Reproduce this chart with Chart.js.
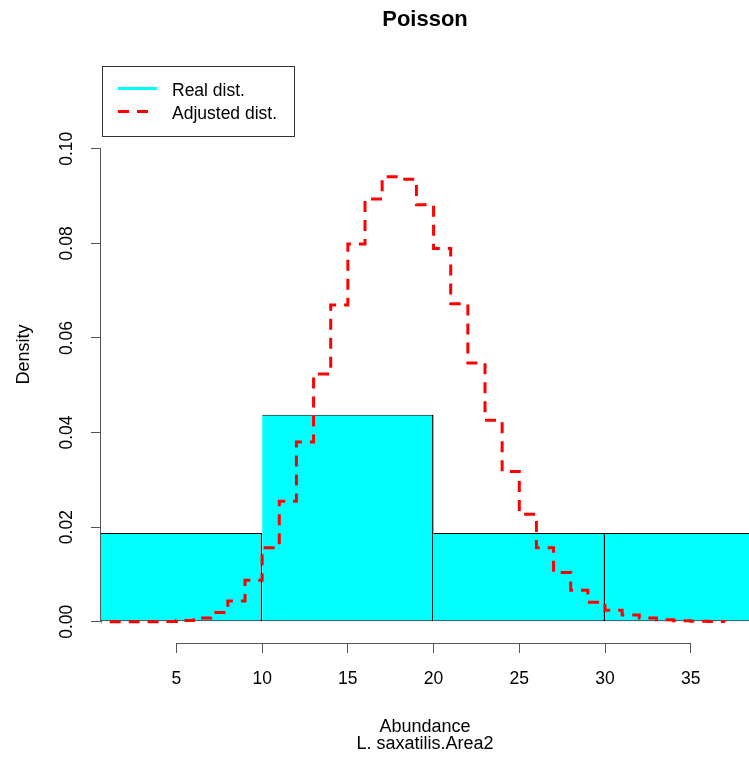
<!DOCTYPE html>
<html>
<head>
<meta charset="utf-8">
<title>Poisson</title>
<script src="https://cdn.jsdelivr.net/npm/chart.js@4.4.0/dist/chart.umd.min.js"></script>
<style>
  html, body { margin: 0; padding: 0; background: #fff; }
  canvas { display: block; }
</style>
</head>
<body>
<canvas id="histChart" width="749" height="766"></canvas>
<script>
// Histogram of observed abundance (density scale)
const breaks = [0, 10, 20, 30, 40];
const density = [0.01875, 0.04375, 0.01875, 0.01875];

// Fitted Poisson probabilities, one per abundance value
const abundance = [0, 1, 2, 3, 4, 5, 6, 7, 8, 9, 10, 11, 12, 13, 14, 15, 16, 17, 18,
  19, 20, 21, 22, 23, 24, 25, 26, 27, 28, 29, 30, 31, 32, 33, 34, 35, 36, 37];
const poisson = [0, 0.0000003, 0.0000027, 0.0000161, 0.000072, 0.0002577, 0.0007689,
  0.001966, 0.004399, 0.008751, 0.01566, 0.02549, 0.03802, 0.05236, 0.06694, 0.07988,
  0.08937, 0.0941, 0.09358, 0.08816, 0.0789, 0.06725, 0.05472, 0.04259, 0.03176,
  0.02274, 0.01566, 0.01038, 0.006635, 0.004096, 0.002444, 0.001411, 0.00079,
  0.000429, 0.000226, 0.000116, 0.0000574, 0.0000278];

// Axis ticks
const xTicks = [5, 10, 15, 20, 25, 30, 35];
const yTicks = [0, 0.02, 0.04, 0.06, 0.08, 0.10];

const mids = breaks.slice(0, -1).map((b, i) => (b + breaks[i + 1]) / 2);
const binWidth = breaks[1] - breaks[0];
const xStep = xTicks[1] - xTicks[0];

Chart.defaults.font.family = '"Liberation Sans", Arial, sans-serif';
Chart.defaults.color = '#000';

// axis lines only span first..last tick, like base R axes
const axisLines = {
  id: 'axisLines',
  afterDraw(chart) {
    const { ctx, chartArea, scales: { x, y } } = chart;
    const xt = x.ticks, yt = y.ticks;
    ctx.save();
    ctx.strokeStyle = '#555';
    ctx.lineWidth = 1;
    ctx.beginPath();
    const ay = Math.round(chartArea.bottom) + 0.5;
    ctx.moveTo(x.getPixelForValue(xt[0].value), ay);
    ctx.lineTo(x.getPixelForValue(xt[xt.length - 1].value), ay);
    const ax = Math.round(chartArea.left) - 0.5;
    ctx.moveTo(ax, y.getPixelForValue(yt[0].value));
    ctx.lineTo(ax, y.getPixelForValue(yt[yt.length - 1].value));
    ctx.stroke();
    ctx.restore();
  }
};

// boxed legend in the top-left corner of the plot region
const legendBox = {
  id: 'legendBox',
  afterDraw(chart) {
    const { ctx, chartArea } = chart;
    const x0 = Math.round(chartArea.left) + 1;
    const y0 = Math.round(chartArea.top);
    ctx.save();
    ctx.strokeStyle = '#333';
    ctx.lineWidth = 1;
    ctx.strokeRect(x0 + 0.5, y0 + 0.5, 192, 70);
    chart.data.datasets.forEach((ds, i) => {
      const ly = y0 + 22.5 + i * 23;
      const dashed = !!ds.borderDash;
      ctx.beginPath();
      ctx.lineWidth = 3;
      ctx.strokeStyle = ds.type === 'bar' ? ds.backgroundColor : ds.borderColor;
      ctx.setLineDash(ds.borderDash || []);
      ctx.moveTo(x0 + 16, ly);
      ctx.lineTo(x0 + (dashed ? 47 : 55), ly);
      ctx.stroke();
      ctx.setLineDash([]);
      ctx.fillStyle = '#000';
      ctx.font = '17.5px "Liberation Sans", Arial, sans-serif';
      ctx.textBaseline = 'middle';
      ctx.fillText(ds.label, x0 + 70, ly + 2.5);
    });
    ctx.restore();
  }
};

new Chart(document.getElementById('histChart'), {
  type: 'bar',
  data: {
    datasets: [{
      type: 'bar',
      label: 'Real dist.',
      data: mids.map((m, i) => ({ x: m, y: density[i] })),
      backgroundColor: '#00FFFF',
      borderColor: '#000000',
      // each bin carries the edge it shares with the next one
      borderWidth: { top: 1, bottom: 1, left: 0, right: 1.5 },
      borderSkipped: 'left',
      inflateAmount: 0,
      barPercentage: binWidth / xStep,
      categoryPercentage: 1,
      order: 2
    }, {
      type: 'line',
      label: 'Adjusted dist.',
      data: abundance.map((k, i) => ({ x: k, y: poisson[i] })),
      borderColor: '#FF0000',
      borderWidth: 3,
      borderDash: [11, 8],
      stepped: 'before',
      pointRadius: 0,
      fill: false,
      order: 1
    }]
  },
  options: {
    responsive: false,
    animation: false,
    events: [],
    layout: { padding: 0 },
    plugins: {
      legend: { display: false },
      tooltip: { enabled: false },
      title: {
        display: true,
        text: 'Poisson',
        fullSize: false,
        color: '#000',
        font: { size: 22, weight: 'bold' },
        padding: { top: 6.5, bottom: 33.1 }
      }
    },
    scales: {
      x: {
        type: 'linear',
        offset: false,
        min: 0.6,
        max: 38.4,
        afterBuildTicks: s => { s.ticks = xTicks.map(v => ({ value: v })); },
        afterFit: s => { s.height = 123; },
        border: { display: false },
        grid: { offset: false, drawOnChartArea: false, color: '#555', tickLength: 10 },
        ticks: { font: { size: 17.5 }, padding: 15.5, maxRotation: 0, autoSkip: false },
        title: {
          display: true,
          text: ['Abundance', 'L. saxatilis.Area2'],
          font: { size: 18, lineHeight: '17.4px' },
          padding: { top: 0, bottom: 13.3 }
        }
      },
      y: {
        type: 'linear',
        min: -0.0045,
        max: 0.1175,
        afterBuildTicks: s => { s.ticks = yTicks.map(v => ({ value: v })); },
        afterFit: s => { s.width = 101; },
        border: { display: false },
        grid: { drawOnChartArea: false, color: '#555', tickLength: 10 },
        ticks: {
          font: { size: 17.5 },
          padding: 7,
          minRotation: 90,
          maxRotation: 90,
          crossAlign: 'center',
          callback: v => v.toFixed(2)
        },
        title: {
          display: true,
          text: 'Density',
          font: { size: 18 },
          padding: { top: 13.2, bottom: 0 }
        }
      }
    }
  },
  plugins: [axisLines, legendBox]
});
</script>
</body>
</html>
